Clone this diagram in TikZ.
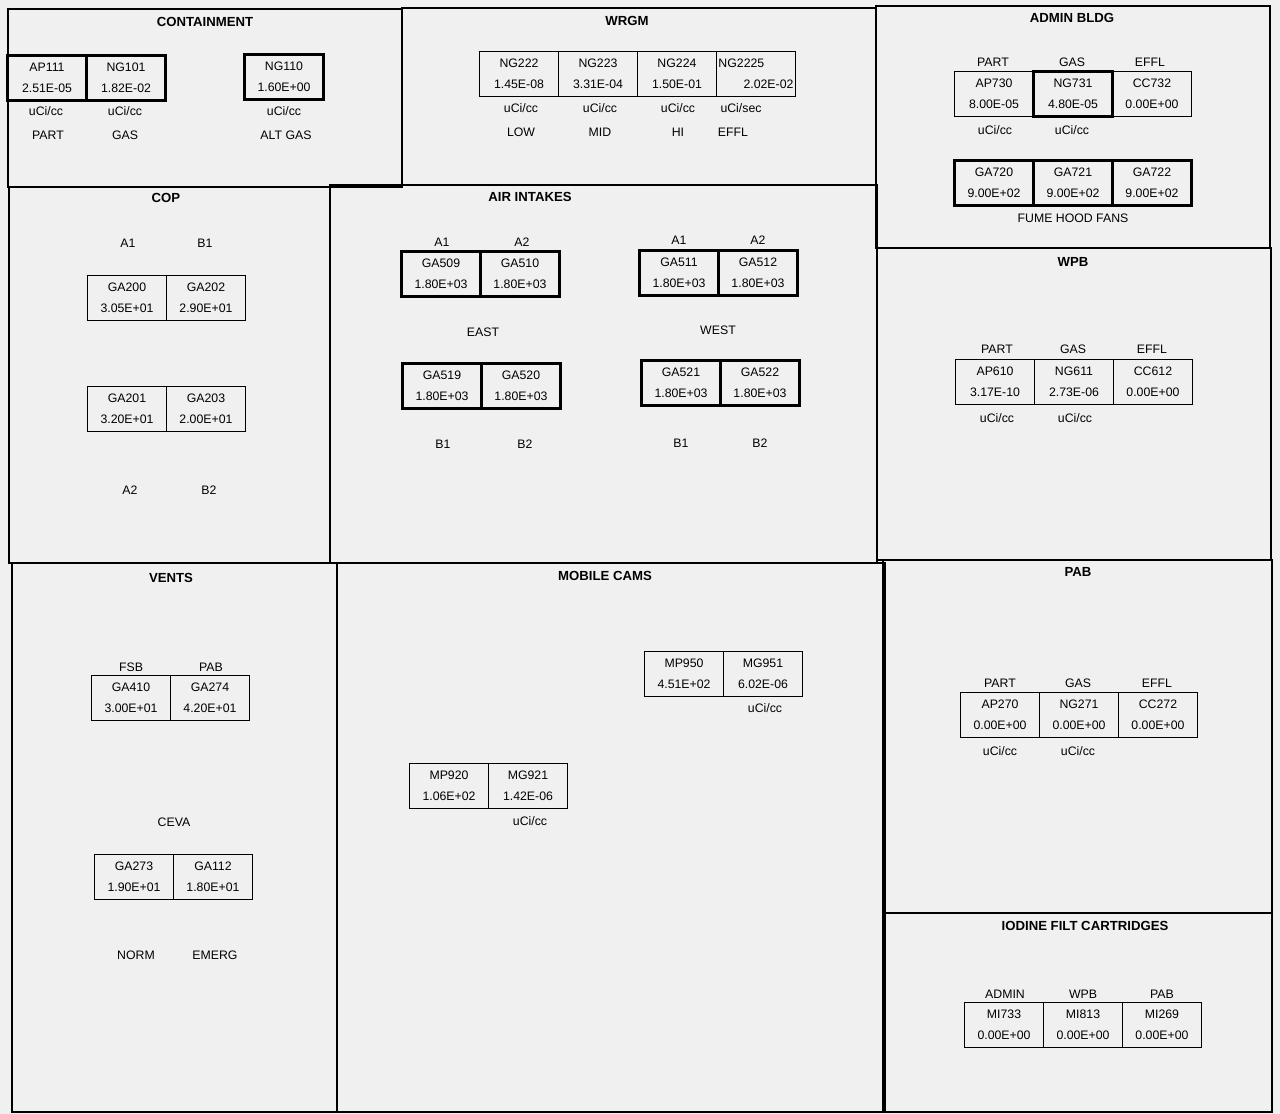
\documentclass[tikz,border=0pt]{standalone}
\usepackage{fontspec}
\setmainfont{Liberation Sans}
\usetikzlibrary{positioning}

\newcommand{\cellfont}{\fontsize{7}{12}\selectfont}
\newcommand{\lblfont}{\fontsize{7}{8}\selectfont}
\newcommand{\ttlfont}{\fontsize{7.5}{8}\selectfont\bfseries}

\begin{document}
\begin{tikzpicture}[
    x=0.02cm, y=-0.02cm,
    cell/.style={draw, line width=0.6pt, minimum width=1.58cm, minimum height=0.9cm, inner sep=0pt, outer sep=0pt, align=center, font=\cellfont},
    heavy/.style={line width=1.7pt},
    lbl/.style={inner sep=0pt, font=\lblfont},
    ttl/.style={inner sep=0pt, font=\ttlfont},
    frame/.style={draw, line width=1.1pt}
  ]
    \fill[black!6] (0,0) rectangle (1280,1114);
    \useasboundingbox (0,0) rectangle (1280,1114);

    % panels
    \draw[frame] (8,9) rectangle (402,187);
    \draw[frame] (402,8) rectangle (876,185);
    \draw[frame] (876,6) rectangle (1270,248);
    \draw[frame] (9,187) rectangle (330,563);
    \draw[frame] (330,185) rectangle (877,563);
    \draw[frame] (877,248) rectangle (1271,560);
    \draw[frame] (12,563) rectangle (337,1112);
    \draw[frame] (337,563) rectangle (885,1112);
    \draw[frame] (883,560) rectangle (1272,913);
    \draw[frame] (883,913) rectangle (1272,1112);

    \node[ttl] (t-cont) at (205,22) {CONTAINMENT};
    \node[ttl] (t-wrgm) at (627,21) {WRGM};
    \node[ttl] (t-admin) at (1072,18) {ADMIN BLDG};
    \node[ttl] (t-cop) at (166,198) {COP};
    \node[ttl] (t-air) at (530,197) {AIR INTAKES};
    \node[ttl] (t-wpb) at (1073,262) {WPB};
    \node[ttl] (t-vents) at (171,578) {VENTS};
    \node[ttl] (t-mobile) at (605,576) {MOBILE CAMS};
    \node[ttl] (t-pab) at (1078,572) {PAB};
    \node[ttl] (t-iod) at (1085,926) {IODINE FILT CARTRIDGES};

    % containment
    \node[cell, heavy] (ap111) at (47,78) {AP111\\2.51E-05};
    \node[cell, heavy, right=0pt of ap111] (ng101) {NG101\\1.82E-02};
    \node[cell, heavy] (ng110) at (284,77) {NG110\\1.60E+00};
    \node[lbl] (u-ap111) at (46,111) {uCi/cc};
    \node[lbl] (u-ng101) at (125,111) {uCi/cc};
    \node[lbl] (u-ng110) at (284,111) {uCi/cc};
    \node[lbl] (l-part1) at (48,135) {PART};
    \node[lbl] (l-gas1) at (125,135) {GAS};
    \node[lbl] (l-altgas) at (286,135) {ALT GAS};

    % wrgm
    \node[cell] (ng222) at (519,74) {NG222\\1.45E-08};
    \node[cell, right=0pt of ng222] (ng223) {NG223\\3.31E-04};
    \node[cell, right=0pt of ng223] (ng224) {NG224\\1.50E-01};
    \node[cell, right=0pt of ng224] (ng2225) {\makebox[1.5cm][l]{NG2225}\\\makebox[1.5cm][r]{2.02E-02}};
    \node[lbl] (u-ng222) at (521,108) {uCi/cc};
    \node[lbl] (u-ng223) at (600,108) {uCi/cc};
    \node[lbl] (u-ng224) at (678,108) {uCi/cc};
    \node[lbl] (u-ng2225) at (741,108) {uCi/sec};
    \node[lbl] (l-low) at (521,132) {LOW};
    \node[lbl] (l-mid) at (600,132) {MID};
    \node[lbl] (l-hi) at (678,132) {HI};
    \node[lbl] (l-effl1) at (733,132) {EFFL};

    % admin bldg
    \node[lbl] (l-part2) at (993,62) {PART};
    \node[lbl] (l-gas2) at (1072,62) {GAS};
    \node[lbl] (l-effl2) at (1150,62) {EFFL};
    \node[cell] (ap730) at (994,94) {AP730\\8.00E-05};
    \node[cell, heavy, right=0pt of ap730] (ng731) {NG731\\4.80E-05};
    \node[cell, right=0pt of ng731] (cc732) {CC732\\0.00E+00};
    \node[lbl] (u-ap730) at (995,130) {uCi/cc};
    \node[lbl] (u-ng731) at (1072,130) {uCi/cc};
    \node[cell, heavy] (ga720) at (994,183) {GA720\\9.00E+02};
    \node[cell, heavy, right=0pt of ga720] (ga721) {GA721\\9.00E+02};
    \node[cell, heavy, right=0pt of ga721] (ga722) {GA722\\9.00E+02};
    \node[lbl] (l-fume) at (1073,218) {FUME HOOD FANS};

    % cop
    \node[lbl] (l-a1c) at (128,243) {A1};
    \node[lbl] (l-b1c) at (205,243) {B1};
    \node[cell] (ga200) at (127,298) {GA200\\3.05E+01};
    \node[cell, right=0pt of ga200] (ga202) {GA202\\2.90E+01};
    \node[cell] (ga201) at (127,409) {GA201\\3.20E+01};
    \node[cell, right=0pt of ga201] (ga203) {GA203\\2.00E+01};
    \node[lbl] (l-a2c) at (130,490) {A2};
    \node[lbl] (l-b2c) at (209,490) {B2};

    % air intakes
    \node[lbl] (l-a1e) at (442,242) {A1};
    \node[lbl] (l-a2e) at (522,242) {A2};
    \node[lbl] (l-a1w) at (679,240) {A1};
    \node[lbl] (l-a2w) at (758,240) {A2};
    \node[cell, heavy] (ga509) at (441,274) {GA509\\1.80E+03};
    \node[cell, heavy, right=0pt of ga509] (ga510) {GA510\\1.80E+03};
    \node[cell, heavy] (ga511) at (679,273) {GA511\\1.80E+03};
    \node[cell, heavy, right=0pt of ga511] (ga512) {GA512\\1.80E+03};
    \node[lbl] (l-east) at (483,332) {EAST};
    \node[lbl] (l-west) at (718,330) {WEST};
    \node[cell, heavy] (ga519) at (442,386) {GA519\\1.80E+03};
    \node[cell, heavy, right=0pt of ga519] (ga520) {GA520\\1.80E+03};
    \node[cell, heavy] (ga521) at (681,383) {GA521\\1.80E+03};
    \node[cell, heavy, right=0pt of ga521] (ga522) {GA522\\1.80E+03};
    \node[lbl] (l-b1e) at (443,444) {B1};
    \node[lbl] (l-b2e) at (525,444) {B2};
    \node[lbl] (l-b1w) at (681,443) {B1};
    \node[lbl] (l-b2w) at (760,443) {B2};

    % wpb
    \node[lbl] (l-part3) at (997,349) {PART};
    \node[lbl] (l-gas3) at (1073,349) {GAS};
    \node[lbl] (l-effl3) at (1152,349) {EFFL};
    \node[cell] (ap610) at (995,382) {AP610\\3.17E-10};
    \node[cell, right=0pt of ap610] (ng611) {NG611\\2.73E-06};
    \node[cell, right=0pt of ng611] (cc612) {CC612\\0.00E+00};
    \node[lbl] (u-ap610) at (997,418) {uCi/cc};
    \node[lbl] (u-ng611) at (1075,418) {uCi/cc};

    % vents
    \node[lbl] (l-fsb) at (131,667) {FSB};
    \node[lbl] (l-pabv) at (211,667) {PAB};
    \node[cell] (ga410) at (131,698) {GA410\\3.00E+01};
    \node[cell, right=0pt of ga410] (ga274) {GA274\\4.20E+01};
    \node[lbl] (l-ceva) at (174,822) {CEVA};
    \node[cell] (ga273) at (134,877) {GA273\\1.90E+01};
    \node[cell, right=0pt of ga273] (ga112) {GA112\\1.80E+01};
    \node[lbl] (l-norm) at (136,955) {NORM};
    \node[lbl] (l-emerg) at (215,955) {EMERG};

    % mobile cams
    \node[cell] (mp950) at (684,674) {MP950\\4.51E+02};
    \node[cell, right=0pt of mp950] (mg951) {MG951\\6.02E-06};
    \node[lbl] (u-mg951) at (765,708) {uCi/cc};
    \node[cell] (mp920) at (449,786) {MP920\\1.06E+02};
    \node[cell, right=0pt of mp920] (mg921) {MG921\\1.42E-06};
    \node[lbl] (u-mg921) at (530,821) {uCi/cc};

    % pab
    \node[lbl] (l-part4) at (1000,683) {PART};
    \node[lbl] (l-gas4) at (1078,683) {GAS};
    \node[lbl] (l-effl4) at (1157,683) {EFFL};
    \node[cell] (ap270) at (1000,715) {AP270\\0.00E+00};
    \node[cell, right=0pt of ap270] (ng271) {NG271\\0.00E+00};
    \node[cell, right=0pt of ng271] (cc272) {CC272\\0.00E+00};
    \node[lbl] (u-ap270) at (1000,751) {uCi/cc};
    \node[lbl] (u-ng271) at (1078,751) {uCi/cc};

    % iodine filt cartridges
    \node[lbl] (l-admin) at (1005,994) {ADMIN};
    \node[lbl] (l-wpbi) at (1083,994) {WPB};
    \node[lbl] (l-pabi) at (1162,994) {PAB};
    \node[cell] (mi733) at (1004,1025) {MI733\\0.00E+00};
    \node[cell, right=0pt of mi733] (mi813) {MI813\\0.00E+00};
    \node[cell, right=0pt of mi813] (mi269) {MI269\\0.00E+00};
  \end{tikzpicture}
\end{document}
